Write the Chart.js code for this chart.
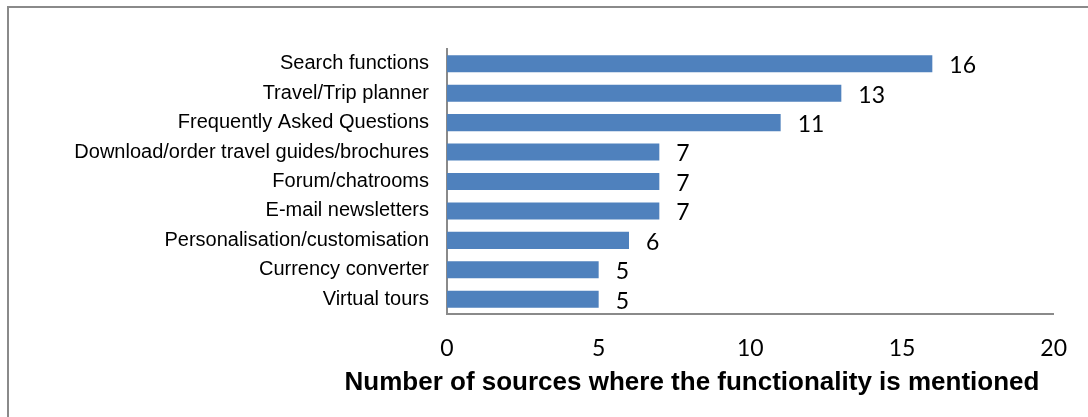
<!DOCTYPE html>
<html>
<head>
<meta charset="utf-8">
<script src="https://cdn.jsdelivr.net/npm/chart.js@4.4.1/dist/chart.umd.min.js"></script>
<style>
  html, body { margin: 0; padding: 0; background: #fff; overflow: hidden; }
  #wrap { position: relative; width: 1088px; height: 417px; }
  #frame { position: absolute; left: 7px; top: 6px; width: 1100px; height: 430px;
           border-left: 2px solid #8a8a8a; border-top: 2px solid #8a8a8a; }
  canvas { position: absolute; left: 0; top: 0; }
</style>
</head>
<body>
<div id="wrap">
  <div id="frame"></div>
  <canvas id="chart" width="1088" height="417"></canvas>
</div>
<script>
// categories and values
const categories = [
  'Search functions',
  'Travel/Trip planner',
  'Frequently Asked Questions',
  'Download/order travel guides/brochures',
  'Forum/chatrooms',
  'E-mail newsletters',
  'Personalisation/customisation',
  'Currency converter',
  'Virtual tours'
];
const counts = [16, 13, 11, 7, 7, 7, 6, 5, 5];
const axisTitle = 'Number of sources where the functionality is mentioned';

// labels at the end of each bar
const valueLabels = {
  id: 'valueLabels',
  afterDatasetsDraw(chart) {
    const ctx = chart.ctx;
    const meta = chart.getDatasetMeta(0);
    ctx.save();
    ctx.font = '23px Lato, "Noto Sans", sans-serif';
    ctx.fillStyle = '#000';
    ctx.textAlign = 'left';
    ctx.textBaseline = 'middle';
    meta.data.forEach((bar, i) => {
      ctx.fillText(String(counts[i]), bar.x + 17, bar.y + 2);
    });
    ctx.restore();
  }
};

// axis title, drawn by hand because it is not centred on the plot area
const bottomTitle = {
  id: 'bottomTitle',
  afterDraw(chart) {
    const ctx = chart.ctx;
    ctx.save();
    ctx.font = 'bold 26px "Liberation Sans", Arial, sans-serif';
    ctx.fillStyle = '#000';
    ctx.textAlign = 'center';
    ctx.textBaseline = 'middle';
    ctx.fillText(axisTitle, 692, 383);
    ctx.restore();
  }
};

new Chart(document.getElementById('chart'), {
  type: 'bar',
  data: {
    labels: categories,
    datasets: [{
      data: counts,
      backgroundColor: '#4f81bd',
      barPercentage: 0.58,
      categoryPercentage: 1
    }]
  },
  options: {
    indexAxis: 'y',
    responsive: false,
    animation: false,
    layout: { padding: { top: 49, right: 29, left: 0, bottom: 17 } },
    plugins: { legend: { display: false }, tooltip: { enabled: false } },
    scales: {
      x: {
        min: 0,
        max: 20,
        ticks: {
          stepSize: 5,
          color: '#000',
          padding: 21,
          font: { family: 'Lato, "Noto Sans", sans-serif', size: 23 }
        },
        grid: { display: false, drawTicks: false },
        border: { color: '#8a8a8a', width: 2 },
        afterFit(scale) { scale.height = 86; }
      },
      y: {
        ticks: {
          color: '#000',
          padding: 18,
          autoSkip: false,
          font: { family: '"Liberation Sans", Arial, sans-serif', size: 20 }
        },
        grid: { display: false, drawTicks: false },
        border: { color: '#8a8a8a', width: 2 },
        afterFit(scale) { scale.width = 447; }
      }
    }
  },
  plugins: [valueLabels, bottomTitle]
});
</script>
</body>
</html>
